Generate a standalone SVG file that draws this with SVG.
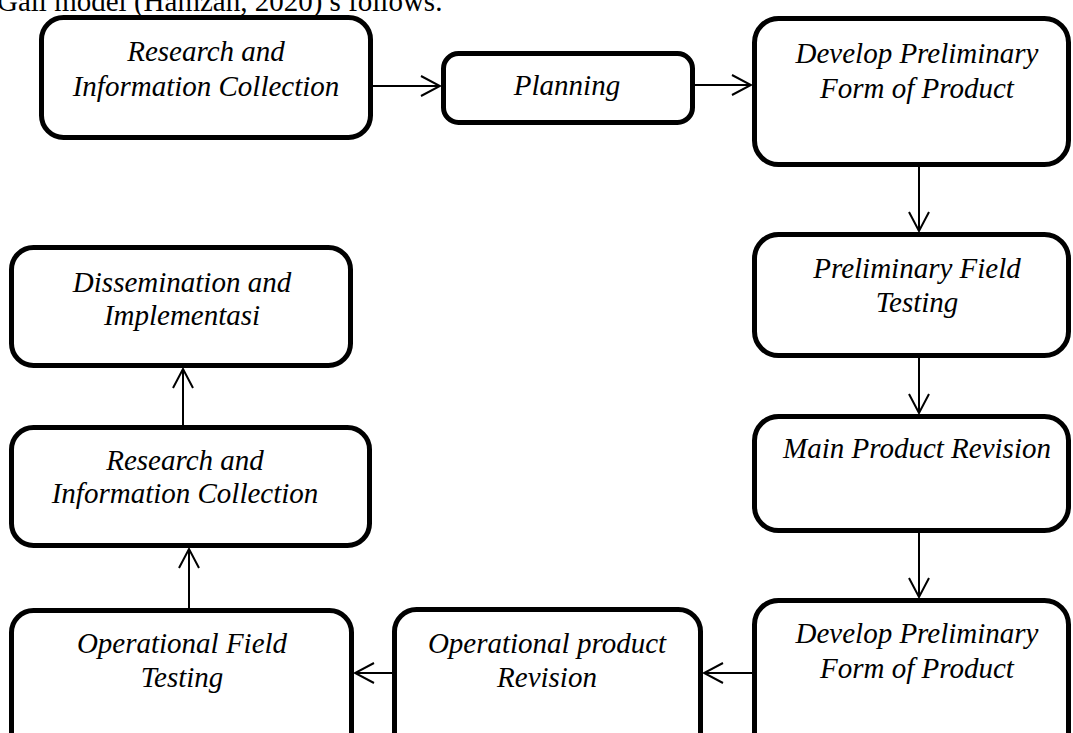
<svg xmlns="http://www.w3.org/2000/svg" width="1073" height="733" viewBox="0 0 1073 733">
<defs>
<style>
.box{fill:#fff;stroke:#000;stroke-width:5}
.t{font-family:"Liberation Serif","Times New Roman",serif;font-style:italic;font-size:29px;fill:#000;text-anchor:middle}
.h{font-family:"Liberation Serif","Times New Roman",serif;font-size:29px;fill:#000}
.c{stroke:#000;stroke-width:2;fill:none}
</style>
<marker id="ah" markerUnits="userSpaceOnUse" markerWidth="24" markerHeight="24" viewBox="-22 -12 24 24" refX="0" refY="0" orient="auto">
<path d="M-19,-10 L0,0 L-19,10" fill="none" stroke="#000" stroke-width="2"/>
</marker>
</defs>
<rect width="1073" height="733" fill="#fff"/>
<text class="h" x="-3" y="11">Gall model (Hamzah, 2020) s follows.</text>
<g id="connectors">
<line class="c" x1="373" y1="86" x2="440" y2="86" marker-end="url(#ah)"/>
<line class="c" x1="695" y1="85" x2="751" y2="85" marker-end="url(#ah)"/>
<line class="c" x1="919" y1="167" x2="919" y2="231" marker-end="url(#ah)"/>
<line class="c" x1="919" y1="358" x2="919" y2="413" marker-end="url(#ah)"/>
<line class="c" x1="919" y1="533" x2="919" y2="597" marker-end="url(#ah)"/>
<line class="c" x1="752" y1="673" x2="704" y2="673" marker-end="url(#ah)"/>
<line class="c" x1="392" y1="673" x2="355" y2="673" marker-end="url(#ah)"/>
<line class="c" x1="189" y1="608" x2="189" y2="549" marker-end="url(#ah)"/>
<line class="c" x1="183" y1="425" x2="183" y2="369" marker-end="url(#ah)"/>
</g>
<g id="n1"><rect class="box" x="41.5" y="17.5" width="329" height="120" rx="22"/>
<text class="t" x="206" y="61">Research and</text><text class="t" x="206" y="96">Information Collection</text></g>
<g id="n2"><rect class="box" x="443.5" y="53.5" width="249" height="69" rx="15"/>
<text class="t" x="567" y="95">Planning</text></g>
<g id="n3"><rect class="box" x="754.5" y="18.5" width="314" height="146" rx="24"/>
<text class="t" x="917" y="63">Develop Preliminary</text><text class="t" x="917" y="98">Form of Product</text></g>
<g id="n4"><rect class="box" x="754.5" y="234.5" width="314" height="121" rx="24"/>
<text class="t" x="917" y="278">Preliminary Field</text><text class="t" x="917" y="312">Testing</text></g>
<g id="n5"><rect class="box" x="754.5" y="416.5" width="314" height="114" rx="24"/>
<text class="t" x="917" y="458">Main Product Revision</text></g>
<g id="n6"><rect class="box" x="754.5" y="600.5" width="314" height="160" rx="24"/>
<text class="t" x="917" y="643">Develop Preliminary</text><text class="t" x="917" y="678">Form of Product</text></g>
<g id="n7"><rect class="box" x="394.5" y="609.5" width="306" height="160" rx="22"/>
<text class="t" x="547" y="653">Operational product</text><text class="t" x="547" y="687">Revision</text></g>
<g id="n8"><rect class="box" x="11.5" y="610.5" width="340" height="160" rx="22"/>
<text class="t" x="182" y="653">Operational Field</text><text class="t" x="182" y="687">Testing</text></g>
<g id="n9"><rect class="box" x="11.5" y="427.5" width="358" height="118" rx="22"/>
<text class="t" x="185" y="470">Research and</text><text class="t" x="185" y="503">Information Collection</text></g>
<g id="n10"><rect class="box" x="11.5" y="247.5" width="339" height="118" rx="22"/>
<text class="t" x="182" y="292">Dissemination and</text><text class="t" x="182" y="325">Implementasi</text></g>
</svg>
